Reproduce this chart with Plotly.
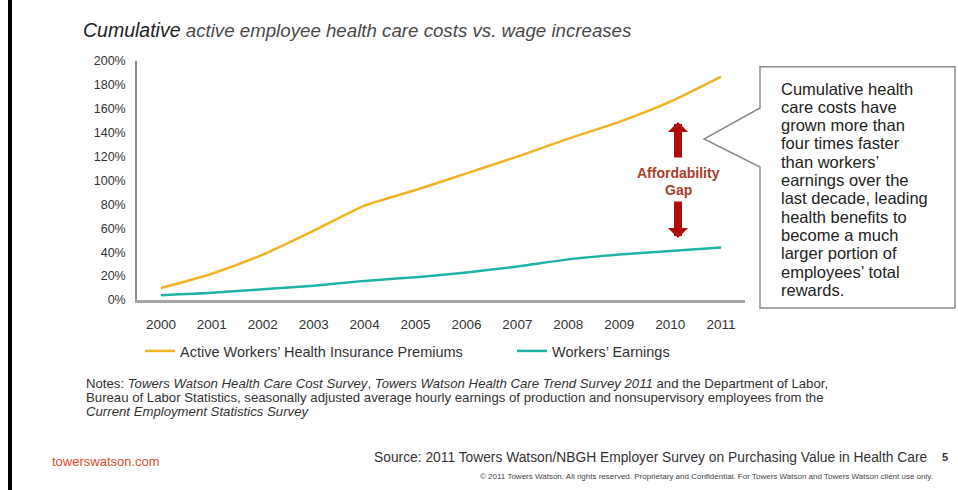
import plotly.graph_objects as go

# ---------------- data ----------------
years = [2000, 2001, 2002, 2003, 2004, 2005, 2006, 2007, 2008, 2009, 2010, 2011]
premiums = [10, 22, 38, 58, 79, 92, 106, 120, 135, 149, 166, 187]
earnings = [4, 6, 9, 12, 16, 19, 23, 28, 34, 38, 41, 44]
series_names = ["Active Workers\u2019 Health Insurance Premiums", "Workers\u2019 Earnings"]
y_ticks = [0, 20, 40, 60, 80, 100, 120, 140, 160, 180, 200]
y_tick_labels = [f"{v}%" for v in y_ticks]

callout_lines = ["Cumulative health", "care costs have", "grown more than", "four times faster",
                 "than workers\u2019", "earnings over the", "last decade, leading", "health benefits to",
                 "become a much", "larger portion of", "employees\u2019 total", "rewards."]
gap_lines = ["Affordability", "Gap"]
notes_lines = [
    "Notes: <i>Towers Watson Health Care Cost Survey</i>, <i>Towers Watson Health Care Trend Survey 2011</i>"
    " and the Department of Labor,",
    "Bureau of Labor Statistics, seasonally adjusted average hourly earnings of production and"
    " nonsupervisory employees from the",
    "<i>Current Employment Statistics Survey</i>",
]

# ---------------- layout geometry (pixels) ----------------
W_FIG, H_FIG = 958, 490
L, R, T, B = 137, 213, 61, 190
PW = W_FIG - L - R
PH = H_FIG - T - B
BOTTOM = H_FIG - B


def px(x):
    return (x - L) / PW


def py(y):
    return (BOTTOM - y) / PH


FONT = "Liberation Sans, Arial, sans-serif"
YELLOW = "#f0b323"
TEAL = "#1fb3a6"
DARKRED = "#b00d0d"
GAPTXT = "#a8402a"

fig = go.Figure()
fig.add_trace(go.Scatter(x=years, y=premiums, name=series_names[0], mode="lines", legend="legend",
                         line=dict(color=YELLOW, width=2.5, shape="spline", smoothing=0.6)))
fig.add_trace(go.Scatter(x=years, y=earnings, name=series_names[1], mode="lines", legend="legend2",
                         line=dict(color=TEAL, width=2.5, shape="spline", smoothing=0.6)))

annotations = []


def add_lines(lines, x, y_first, dy, size, color, xanchor="left"):
    for i, line in enumerate(lines):
        annotations.append(dict(x=px(x), y=py(y_first + i * dy), xref="paper", yref="paper",
                                xanchor=xanchor, yanchor="middle", text=line, showarrow=False,
                                font=dict(family=FONT, size=size, color=color)))


# callout text
add_lines(callout_lines, 779, 88.5, 18.3, 16.5, "#222222")

# affordability gap
add_lines([f"<b>{t}</b>" for t in gap_lines], 678, 173, 17, 14, GAPTXT, xanchor="center")
annotations.append(dict(x=px(678), y=py(122), xref="paper", yref="paper", text="", showarrow=True,
                        ax=0, ay=37, arrowhead=1, arrowsize=0.42, arrowwidth=8, arrowcolor=DARKRED))
annotations.append(dict(x=px(678), y=py(238), xref="paper", yref="paper", text="", showarrow=True,
                        ax=0, ay=-38, arrowhead=1, arrowsize=0.42, arrowwidth=8, arrowcolor=DARKRED))

# notes
add_lines(notes_lines, 84, 383, 14, 13.2, "#333333")

# footer
annotations.append(dict(x=px(50), y=py(461), xref="paper", yref="paper", xanchor="left", yanchor="middle",
                        text="towerswatson.com", showarrow=False,
                        font=dict(family=FONT, size=13, color="#e24a2c")))
annotations.append(dict(x=px(929), y=py(457), xref="paper", yref="paper", xanchor="right", yanchor="middle",
                        text="Source: 2011 Towers Watson/NBGH Employer Survey on Purchasing Value in Health Care",
                        showarrow=False, font=dict(family=FONT, size=13.8, color="#333333")))
annotations.append(dict(x=px(945), y=py(457), xref="paper", yref="paper", xanchor="center", yanchor="middle",
                        text="<b>5</b>", showarrow=False, font=dict(family=FONT, size=11, color="#333333")))
annotations.append(dict(x=px(935), y=py(476), xref="paper", yref="paper", xanchor="right", yanchor="middle",
                        text="\u00a9 2011 Towers Watson. All rights reserved. Proprietary and Confidential. "
                             "For Towers Watson and Towers Watson client use only.",
                        showarrow=False, font=dict(family=FONT, size=8, color="#444444")))

shapes = [
    # callout box with pointer
    dict(type="path", xref="paper", yref="paper",
         path=(f"M {px(760)},{py(66.7)} L {px(955)},{py(66.7)} L {px(955)},{py(308)} L {px(760)},{py(308)} "
               f"L {px(760)},{py(167)} L {px(704)},{py(139)} L {px(760)},{py(108)} Z"),
         line=dict(color="#8c8c8c", width=1.5), fillcolor="rgba(255,255,255,0)"),
    # left slide border
    dict(type="line", xref="paper", yref="paper", x0=px(10), x1=px(10), y0=py(0), y1=py(490),
         line=dict(color="#000000", width=4)),
]

legend_common = dict(orientation="h", xref="container", yref="container", y=1 - 351 / H_FIG,
                     xanchor="left", yanchor="middle",
                     font=dict(family=FONT, size=14.5, color="#333333"), bgcolor="rgba(0,0,0,0)")

fig.update_layout(
    width=W_FIG, height=H_FIG,
    margin=dict(l=L, r=R, t=T, b=B, autoexpand=False),
    paper_bgcolor="white", plot_bgcolor="white",
    font=dict(family=FONT, color="#333333"),
    title=dict(
        text=("<i><span style='font-size:19.5px;color:#222222'>Cumulative</span> "
              "<span style='color:#4a4a4a'>active employee health care costs vs. wage increases</span></i>"),
        x=83 / W_FIG, xref="container", xanchor="left",
        y=1 - 30 / H_FIG, yref="container", yanchor="middle",
        font=dict(family=FONT, size=18.7, color="#4a4a4a"),
    ),
    xaxis=dict(range=[1999.53, 2011.47], tickvals=years, showgrid=False, zeroline=False,
               showline=True, linecolor="#a6a6a6", linewidth=3, ticks="",
               ticklabelstandoff=10, tickfont=dict(family=FONT, size=13.5, color="#333333")),
    yaxis=dict(range=[0, 200], tickvals=y_ticks, ticktext=y_tick_labels, showgrid=False, zeroline=False,
               showline=True, linecolor="#8c8c8c", linewidth=1.5, ticks="",
               ticklabelstandoff=7, tickfont=dict(family=FONT, size=12.5, color="#333333")),
    legend=dict(x=140 / W_FIG, **legend_common),
    legend2=dict(x=512 / W_FIG, **legend_common),
    showlegend=True,
    annotations=annotations,
    shapes=shapes,
)

fig.write_html("out.html")
